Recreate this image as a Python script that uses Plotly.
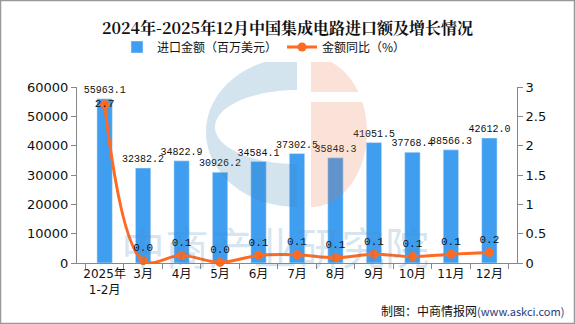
import numpy as np
import plotly.graph_objects as go

categories = ["2025年<br>1-2月", "3月", "4月", "5月", "6月", "7月", "8月", "9月", "10月", "11月", "12月"]
import_value = [55963.1, 32382.2, 34822.9, 30926.2, 34584.1, 37302.5, 35848.3, 41051.5, 37768.4, 38566.3, 42612.0]
yoy = [2.7, 0.04, 0.13, 0.01, 0.13, 0.14, 0.09, 0.15, 0.11, 0.15, 0.18]

W, H = 575, 324
L, R, T, B = 77, 517, 87, 263

def px2paper(px, py):
    return (px - L) / (R - L), (B - py) / (B - T)

def poly_path(pts):
    s = ""
    for i, (x, y) in enumerate(pts):
        xp, yp = px2paper(x, y)
        s += ("M" if i == 0 else "L") + f"{xp:.4f},{yp:.4f} "
    return s + "Z"

fig = go.Figure()
fig.add_trace(go.Bar(
    x=categories, y=import_value, name="进口金额（百万美元）",
    marker_color="#3F9EF0", width=0.4,
    text=[f"{v:.1f}" for v in import_value], textposition="outside", constraintext="none",
    textfont=dict(family="Liberation Mono, Noto Sans CJK SC", size=10, color="#111"),
    cliponaxis=False,
))
pos = ["middle center"] + ["top center"] * (len(yoy) - 1)
fig.add_trace(go.Scatter(
    x=categories, y=yoy, yaxis="y2", name="金额同比（%）",
    mode="lines+markers+text", line=dict(color="#FF6A22", width=3, shape="spline"),
    marker=dict(size=9, color="#FF6A22"),
    text=[f"{v:.1f}" for v in yoy], textposition=pos,
    textfont=dict(family="Liberation Mono, Noto Sans CJK SC", size=11, color="#111"),
    cliponaxis=False,
))

shapes = []
# watermark logo (decorative)
cx, cy = 297, 132
th = np.linspace(np.pi / 2, 3 * np.pi / 2, 60)
outer = [(cx + 91 * np.cos(t), cy - 75 * np.sin(t)) for t in th]
inner = [(cx + 82 * np.cos(t), cy - 37 * np.sin(t) - 5) for t in th[::-1]]
shapes.append(dict(type="path", xref="paper", yref="paper", path=poly_path(outer + inner),
                   fillcolor="rgba(60,130,180,0.22)", line=dict(width=0), layer="above"))
ocx = 311
th2 = np.linspace(-np.pi / 2, np.pi / 2, 60)
orange = [(ocx + 56 * np.cos(t), cy - 75 * np.sin(t)) for t in th2]
shapes.append(dict(type="path", xref="paper", yref="paper", path=poly_path(orange),
                   fillcolor="rgba(235,110,60,0.2)", line=dict(width=0), layer="above"))
x0, y0 = px2paper(311, 92)
x1, y1 = px2paper(370, 102)
shapes.append(dict(type="rect", xref="paper", yref="paper", x0=x0, x1=x1, y0=y1, y1=y0,
                   fillcolor="white", line=dict(width=0), layer="above"))
# outer border
shapes.append(dict(type="rect", xref="paper", yref="paper",
                   x0=px2paper(0.5, 0)[0], x1=px2paper(W - 0.5, 0)[0],
                   y0=px2paper(0, H - 0.5)[1], y1=px2paper(0, 0.5)[1],
                   line=dict(color="#999", width=1.5), layer="above"))

annotations = [
    dict(text="中商产业研究院", xref="paper", yref="paper",
         x=px2paper(275, 0)[0], y=px2paper(0, 246)[1], showarrow=False,
         font=dict(family="Noto Sans CJK SC", size=44, color="rgba(70,140,190,0.22)"),
         xanchor="center", yanchor="middle"),
    dict(text="制图：中商情报网<span style='font-size:11px;color:#1F3A78'>(www.askci.com)</span>",
         xref="paper", yref="paper", x=px2paper(566, 0)[0], y=px2paper(0, 310)[1],
         showarrow=False, xanchor="right", yanchor="middle",
         font=dict(family="Noto Sans CJK SC", size=12, color="#111")),
]

fig.update_layout(
    width=W, height=H, margin=dict(l=L, r=W - R, t=T, b=H - B),
    paper_bgcolor="white", plot_bgcolor="white",
    title=dict(text="<b>2024年-2025年12月中国集成电路进口额及增长情况</b>", x=0.5, xanchor="center",
               y=1 - 28 / H, yanchor="middle",
               font=dict(family="Noto Serif CJK SC, Noto Sans CJK SC", size=16, color="#111")),
    legend=dict(orientation="h", x=0.425, xanchor="center", y=1 - 47 / H, yref="container", yanchor="middle",
                font=dict(family="Noto Sans CJK SC", size=12, color="#111"), itemwidth=30),
    font=dict(family="DejaVu Sans, Noto Sans CJK SC", size=13, color="#111"),
    xaxis=dict(showline=True, linecolor="#888", ticks="outside", tickson="boundaries", ticklen=5,
               tickcolor="#888", showgrid=False, tickangle=0,
               tickfont=dict(family="DejaVu Sans, Noto Sans CJK SC", size=12)),
    yaxis=dict(range=[0, 60000], dtick=10000, tickformat="d", showline=True, linecolor="#888", ticks="outside",
               ticklen=5, tickcolor="#888", showgrid=False, zeroline=False,
               tickfont=dict(family="DejaVu Sans", size=13)),
    yaxis2=dict(range=[0, 3], dtick=0.5, overlaying="y", side="right", showline=True, linecolor="#888",
                ticks="outside", ticklen=5, tickcolor="#888", showgrid=False, zeroline=False,
                tickfont=dict(family="DejaVu Sans", size=13)),
    bargap=0.6, shapes=shapes, annotations=annotations,
)
fig.write_html("out.html")
